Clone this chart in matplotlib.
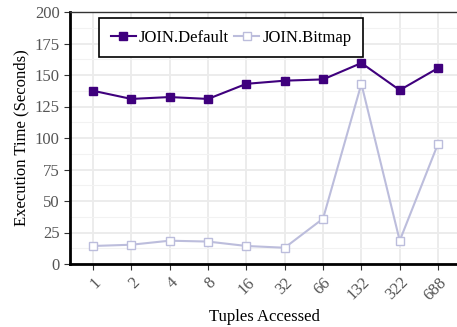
import matplotlib
matplotlib.use('Agg')
from matplotlib import pyplot as plt
from matplotlib.ticker import MultipleLocator

plt.rcParams['font.family'] = ['Liberation Serif', 'DejaVu Serif']

tuples = ['1', '2', '4', '8', '16', '32', '66', '132', '322', '688']
join_default = [137.5, 131, 132.5, 131, 143, 145.5, 146.5, 159.5, 138, 155.5]
join_bitmap = [14.3, 15.3, 18.5, 17.8, 14.3, 12.9, 36, 143, 18.5, 95.5]

fig = plt.figure(figsize=(4.57, 3.27), dpi=100)
ax = fig.add_axes([70/457, 63/327, 388/457, 252/327])
xs = range(len(tuples))

ax.plot(xs, join_default, color='#3f007d', lw=1.5, marker='s', ms=6,
	label='JOIN.Default', zorder=4)
ax.plot(xs, join_bitmap, color='#bcbddc', lw=1.5, marker='s', ms=6,
	mfc='white', mew=1.0, label='JOIN.Bitmap', zorder=3)

ax.set_xlim(-0.6, 9.52)
ax.set_ylim(0, 200)
ax.yaxis.set_major_locator(MultipleLocator(25))
ax.yaxis.set_minor_locator(MultipleLocator(12.5))
ax.set_xticks(list(xs))
ax.set_xticklabels(tuples, rotation=45, ha='right', rotation_mode='anchor')
ax.grid(True, which='major', color='#ebebeb', lw=1.3)
ax.grid(True, which='minor', axis='y', color='#f2f2f2', lw=0.8)
ax.set_axisbelow(True)
ax.tick_params(which='minor', length=0)
ax.tick_params(which='major', labelsize=12, labelcolor='#555555', length=4, color='#333333')
for s in ['left', 'bottom']:
	ax.spines[s].set_linewidth(2)
for s in ['top', 'right']:
	ax.spines[s].set_linewidth(1)
	ax.spines[s].set_color('#333333')

ax.set_xlabel('Tuples Accessed', fontsize=12)
ax.set_ylabel('Execution Time (Seconds)', fontsize=12)

leg = ax.legend(loc='upper left', bbox_to_anchor=(0.075, 0.976), ncol=2, fontsize=12,
	fancybox=False, edgecolor='black', framealpha=1, handlelength=1.5,
	handletextpad=0.2, columnspacing=0.3, borderpad=0.7, borderaxespad=0)
leg.get_frame().set_linewidth(1.2)

fig.savefig('out.png', dpi=100)
